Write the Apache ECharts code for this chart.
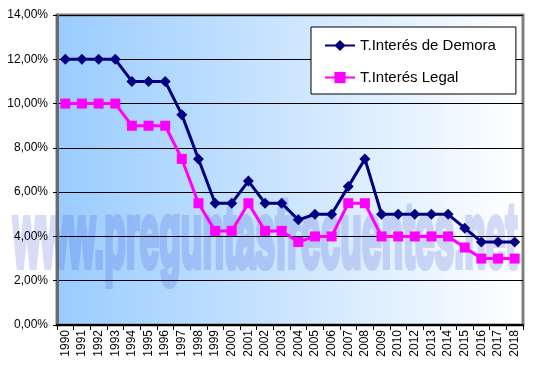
<!DOCTYPE html>
<html><head><meta charset="utf-8">
<script src="https://cdn.jsdelivr.net/npm/echarts@6/dist/echarts.min.js"></script>
<style>html,body{margin:0;padding:0;background:#fff}#c{width:533px;height:366px}</style>
</head><body><div id="c"></div>
<script>
const years = ['1990','1991','1992','1993','1994','1995','1996','1997','1998','1999','2000','2001','2002','2003','2004','2005','2006','2007','2008','2009','2010','2012','2013','2014','2015','2016','2017','2018'];
const demora = [12,12,12,12,11,11,11,9.5,7.5,5.5,5.5,6.5,5.5,5.5,4.75,5,5,6.25,7.5,5,5,5,5,5,4.375,3.75,3.75,3.75];
const legal = [10,10,10,10,9,9,9,7.5,5.5,4.25,4.25,5.5,4.25,4.25,3.75,4,4,5.5,5.5,4,4,4,4,4,3.5,3,3,3];
const seriesNames = ['T.Interés de Demora','T.Interés Legal'];
const watermark = 'www.preguntasfrecuentes.net';

const chart = echarts.init(document.getElementById('c'), null, {renderer:'canvas'});
const font = "'Liberation Sans', Arial, sans-serif";
// watermark layer drawn opaque, whole layer made translucent
chart.getZr().painter.getLayer(1).dom.style.opacity = '0.18';
chart.setOption({
  animation: false,
  backgroundColor: '#fff',
  grid: {
    left: 57, right: 10, top: 15, bottom: 41, show: true,
    backgroundColor: {type:'linear', x:0, y:0, x2:1, y2:0, colorStops:[{offset:0,color:'#99ccff'},{offset:1,color:'#ffffff'}]},
    borderColor: '#808080', borderWidth: 3
  },
  graphic: [{
    type: 'text', x: 13, y: 241, zlevel: 1, z: 1, scaleX: 0.59, scaleY: 1.56, silent: true,
    style: {text: watermark, font: "bold 60px " + font, fill: 'rgb(45,65,205)', stroke: 'rgb(45,65,205)',
      lineWidth: 4, strokeNoScale: true, verticalAlign: 'middle', textVerticalAlign: 'middle'}
  }],
  legend: {
    zlevel: 2,
    left: 311, top: 27, orient: 'vertical',
    backgroundColor: '#fff', borderColor: '#000', borderWidth: 1,
    padding: [11, 20, 9, 13], itemGap: 17, itemWidth: 30, itemHeight: 14,
    textStyle: {fontFamily: font, fontSize: 15, color: '#000'},
    data: seriesNames
  },
  xAxis: {
    type: 'category', data: years, boundaryGap: true, zlevel: 2,
    axisLine: {lineStyle: {color: '#000', width: 2}},
    axisTick: {show: true, length: 5, lineStyle: {color: '#000'}},
    axisLabel: {rotate: 90, margin: 5, fontFamily: font, fontSize: 12, color: '#000', interval: 0}
  },
  yAxis: {
    type: 'value', min: 0, max: 14, interval: 2, zlevel: 2,
    axisLine: {show: true, lineStyle: {color: '#6a6a6a', width: 3}},
    axisTick: {show: true, length: 4, lineStyle: {color: '#000'}},
    splitLine: {lineStyle: {color: '#000', width: 1}},
    axisLabel: {margin: 9, fontFamily: font, fontSize: 12, color: '#000',
      formatter: v => v.toFixed(2).replace('.', ',') + '%'}
  },
  series: [
    {name: seriesNames[0], type: 'line', data: demora, symbol: 'diamond', symbolSize: 11, zlevel: 2,
     itemStyle: {color: '#000080'}, lineStyle: {color: '#000080', width: 3}, z: 3},
    {name: seriesNames[1], type: 'line', data: legal, symbol: 'rect', symbolSize: 10, zlevel: 2,
     itemStyle: {color: '#ff00ff'}, lineStyle: {color: '#ff00ff', width: 3}, z: 2}
  ]
});
</script></body></html>
